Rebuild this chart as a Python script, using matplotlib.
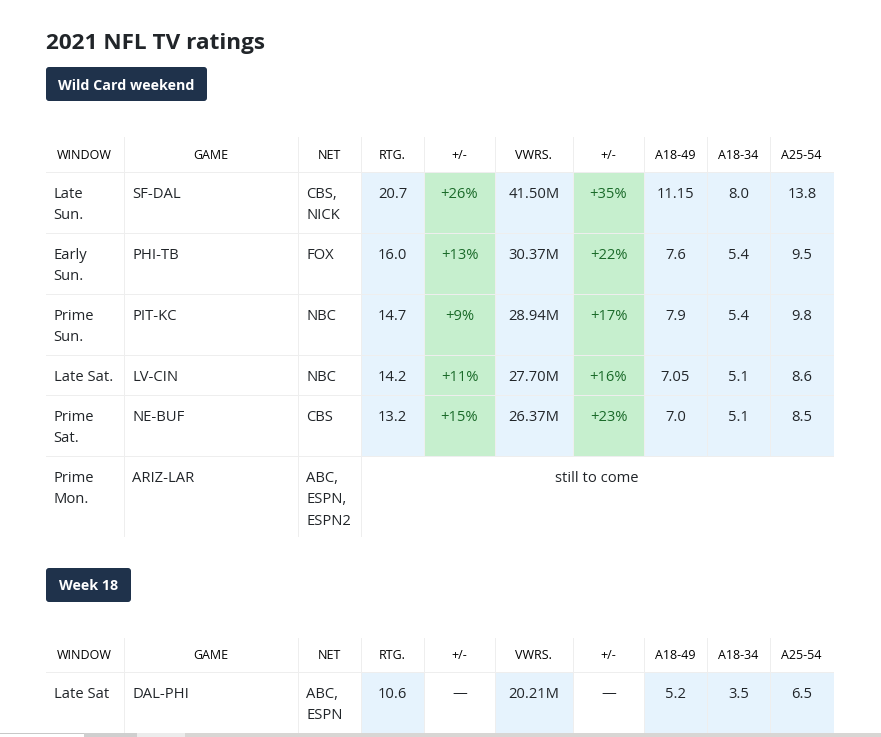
import matplotlib
matplotlib.use("Agg")
import matplotlib.pyplot as plt
from matplotlib.patches import Rectangle, FancyBboxPatch

plt.rcParams['font.family'] = ['Open Sans', 'Noto Sans', 'DejaVu Sans']

title = "2021 NFL TV ratings"
section_a = "Wild Card weekend"
section_b = "Week 18"
headers = ["WINDOW", "GAME", "NET", "RTG.", "+/-", "VWRS.", "+/-", "A18-49", "A18-34", "A25-54"]

windows_a = ["Late\nSun.", "Early\nSun.", "Prime\nSun.", "Late Sat.", "Prime\nSat.", "Prime\nMon."]
games_a = ["SF-DAL", "PHI-TB", "PIT-KC", "LV-CIN", "NE-BUF", "ARIZ-LAR"]
nets_a = ["CBS,\nNICK", "FOX", "NBC", "NBC", "CBS", "ABC,\nESPN,\nESPN2"]
rtg_a = ["20.7", "16.0", "14.7", "14.2", "13.2"]
rtg_chg_a = ["+26%", "+13%", "+9%", "+11%", "+15%"]
vwrs_a = ["41.50M", "30.37M", "28.94M", "27.70M", "26.37M"]
vwrs_chg_a = ["+35%", "+22%", "+17%", "+16%", "+23%"]
a1849_a = ["11.15", "7.6", "7.9", "7.05", "7.0"]
a1834_a = ["8.0", "5.4", "5.4", "5.1", "5.1"]
a2554_a = ["13.8", "9.5", "9.8", "8.6", "8.5"]
pending_note = "still to come"

windows_b = ["Late Sat"]
games_b = ["DAL-PHI"]
nets_b = ["ABC,\nESPN"]
rtg_b = ["10.6"]
rtg_chg_b = ["—"]
vwrs_b = ["20.21M"]
vwrs_chg_b = ["—"]
a1849_b = ["5.2"]
a1834_b = ["3.5"]
a2554_b = ["6.5"]

W, H = 881, 737
X = [46, 124, 298, 361, 424, 495, 573, 644, 707, 770, 834]
Y_A = [137, 172, 233, 294, 355, 395, 456, 537]
Y_B = [638, 672, 733]
LEFT_PAD = [7.5, 8.5, 8.5]
GRID, BLUE, GREEN, NAVY = "#eeeeee", "#e6f3fd", "#c6efce", "#1f324b"
INK, GREENTXT = "#212529", "#1b6b2a"
FS, FSH = 10.6, 9.0

fig = plt.figure(figsize=(W / 100, H / 100), dpi=100)
ax = fig.add_axes([0, 0, 1, 1])
ax.set_xlim(0, W)
ax.set_ylim(H, 0)
ax.axis("off")


def rule(x0, y0, w, h):
    ax.add_patch(Rectangle((x0, y0), w, h, fc=GRID, ec="none", zorder=2))


def table(ys, cols, note=None):
    n = len(ys) - 2
    for r in range(n):
        y0, y1 = ys[r + 1], ys[r + 2]
        for c, col in enumerate(cols):
            x0, x1 = X[c], X[c + 1]
            if c >= 3 and r < len(col):
                val = col[r]
                if c in (4, 6):
                    fill = GREEN if val != "—" else None
                else:
                    fill = BLUE
                if fill:
                    ax.add_patch(Rectangle((x0, y0), x1 - x0, y1 - y0, fc=fill, ec="none", zorder=1))
                ax.text((x0 + x1) / 2, y0 + 22, val, ha="center", va="center", fontsize=FS,
                        color=GREENTXT if fill == GREEN else INK, zorder=4)
            elif c < 3:
                ax.text(x0 + LEFT_PAD[c], y0 + 14.5, col[r], ha="left", va="top", fontsize=FS,
                        color=INK, linespacing=1.6, zorder=4)
    # the note row spans every column from RTG. onward, so no inner rules there
    for i, x in enumerate(X[1:-1], start=1):
        bottom = ys[-2] if (note and i > 3) else ys[-1]
        rule(x, ys[0], 1, bottom - ys[0])
    for y in ys[1:-1]:
        rule(X[0], y, X[-1] - X[0], 1)
    for c, h in enumerate(headers):
        ax.text((X[c] + X[c + 1]) / 2 - 0.5, (ys[0] + ys[1]) / 2 + 0.5, h, ha="center", va="center",
                fontsize=FSH, color="#000000", zorder=4)
    if note:
        ax.text((X[3] + X[-1]) / 2 - 0.5, ys[-2] + 22, note, ha="center", va="center", fontsize=FS,
                color=INK, zorder=4)


def badge(x0, x1, y0, y1, label):
    ax.add_patch(FancyBboxPatch((x0 + 3, y0 + 3), x1 - x0 - 6, y1 - y0 - 6,
                                boxstyle="round,pad=3,rounding_size=3", fc=NAVY, ec="none", zorder=3))
    ax.text((x0 + x1) / 2, (y0 + y1) / 2 + 1.5, label, ha="center", va="center", fontsize=10.3,
            fontweight="bold", color="white", zorder=4)


ax.text(46, 43, title, ha="left", va="center", fontsize=16.2, fontweight="bold", color="#212529")
badge(46, 207, 67, 101, section_a)
badge(46, 131, 568, 602, section_b)

table(Y_A, [windows_a, games_a, nets_a, rtg_a, rtg_chg_a, vwrs_a, vwrs_chg_a, a1849_a, a1834_a, a2554_a],
      note=pending_note)
table(Y_B, [windows_b, games_b, nets_b, rtg_b, rtg_chg_b, vwrs_b, vwrs_chg_b, a1849_b, a1834_b, a2554_b])

# browser scrollbar strip along the bottom edge
ax.add_patch(Rectangle((0, 733), 84, 1, fc="#c8c8c8", ec="none", zorder=6))
ax.add_patch(Rectangle((0, 734), 84, 3, fc="#ffffff", ec="none", zorder=6))
ax.add_patch(Rectangle((84, 733), 53, 4, fc="#cfcfcf", ec="none", zorder=7))
ax.add_patch(Rectangle((137, 733), 48, 4, fc="#ececec", ec="none", zorder=8))
ax.add_patch(Rectangle((185, 733), 696, 4, fc="#d8d6d4", ec="none", zorder=7))

fig.savefig("out.png", dpi=100)
